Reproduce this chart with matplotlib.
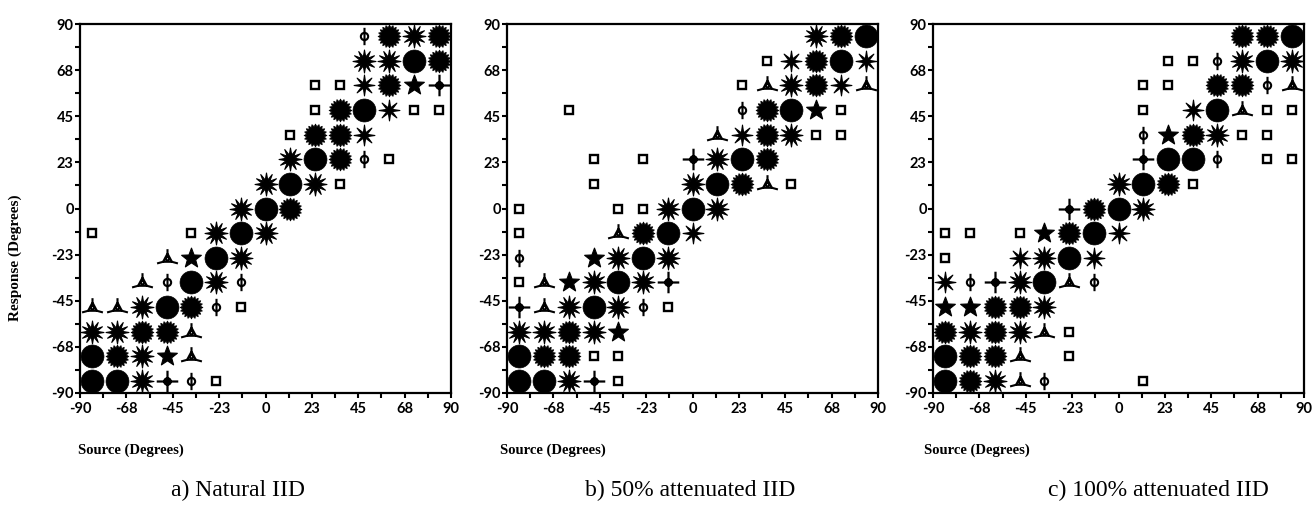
import numpy as np
import matplotlib
matplotlib.use('Agg')
import matplotlib.pyplot as plt
from matplotlib.path import Path

# ---------------- data ----------------
# stimulus / response positions (degrees), columns left->right, rows bottom->top
positions = [-84, -72, -60, -48, -36, -24, -12, 0, 12, 24, 36, 48, 60, 72, 84]
tick_values = [-90, -67.5, -45, -22.5, 0, 22.5, 45, 67.5, 90]
tick_labels = ['-90', '-68', '-45', '-23', '0', '23', '45', '68', '90']
captions = ['a) Natural IID', 'b) 50% attenuated IID', 'c) 100% attenuated IID']

# symbol codes: s=square, p=phi, c=cross, t=tripod, S=star, x=6-arm asterisk,
# a=asterisk, b=burst, D=large dot.  Rows listed from response +84 (top) to -84.
panel_a = [
    "...........pbab",
    "...........aaDb",
    ".........ssxbSc",
    ".........sbDxss",
    "........sbbx...",
    "........aDbps..",
    ".......aDas....",
    "......aDb......",
    "s...saDa.......",
    "...tSDa........",
    "..tpDap........",
    "ttaDbps........",
    "aabbt..........",
    "DbaSt..........",
    "DDacps.........",
]
panel_b = [
    "............abD",
    "..........sxbDx",
    ".........stabxt",
    "..s......pbDSs.",
    "........txbass.",
    "...s.s.caDb....",
    "...s...aDbts...",
    "s...ssaDa......",
    "s...tbDx.......",
    "p..SaDa........",
    "stSaDac........",
    "ctaDaps........",
    "aabaS..........",
    "Dbbss..........",
    "DDacs..........",
]
panel_c = [
    "............bbD",
    ".........sspaDa",
    "........ss.bbpt",
    "........s.xDtss",
    "........pSbass.",
    "........cDDp.ss",
    ".......aDbs....",
    ".....cbDa......",
    "ss.sSbDx.......",
    "s..xaDx........",
    "xpcaDtp........",
    "SSbba..........",
    "babats.........",
    "Dbbt.s.........",
    "Dbatp...s......",
]
panels = [panel_a, panel_b, panel_c]

# ---------------- marker shapes ----------------
def lines_path(segments, circles=()):
    parts = []
    for (x0, y0), (x1, y1) in segments:
        parts.append(Path([(x0, y0), (x1, y1)], [Path.MOVETO, Path.LINETO]))
    for (cx, cy, r) in circles:
        parts.append(Path.circle((cx, cy), r))
    return Path.make_compound_path(*parts)

phi_path = lines_path([((0, -1), (0, 1))], [(0, 0, 0.42)])
cross_path = lines_path([((-1, 0), (1, 0)), ((0, -1), (0, 1))], [(0, 0, 0.3)])
tri_path = lines_path([((0, 0.45), (-0.4, -0.3)), ((-0.4, -0.3), (0.4, -0.3)),
                       ((0.4, -0.3), (0, 0.45)), ((0, 0.45), (0, 0.85)),
                       ((-0.4, -0.3), (-0.95, -0.45)), ((0.4, -0.3), (0.95, -0.45))],
                      [(0, -0.02, 0.15)])
star_path = Path.unit_regular_star(5, 0.42)
ast6_path = Path.unit_regular_star(8, 0.28)
ast_path = Path.unit_regular_star(12, 0.40)
burst_path = Path.unit_regular_star(20, 0.78)

styles = {
    's': dict(marker='s', ms=6.3, mfc='white', mec='black', mew=1.7),
    'p': dict(marker=phi_path, ms=12.5, mfc='none', mec='black', mew=1.5),
    'c': dict(marker=cross_path, ms=15.5, mfc='none', mec='black', mew=1.6),
    't': dict(marker=tri_path, ms=15, mfc='none', mec='black', mew=1.5),
    'S': dict(marker=star_path, ms=15, mfc='black', mec='black', mew=0.8),
    'x': dict(marker=ast6_path, ms=15, mfc='black', mec='black', mew=0.8),
    'a': dict(marker=ast_path, ms=16.5, mfc='black', mec='black', mew=0.8),
    'b': dict(marker=burst_path, ms=16.5, mfc='black', mec='black', mew=0.5),
    'D': dict(marker='o', ms=16.5, mfc='black', mec='black', mew=0.5),
}

# ---------------- figure ----------------
W, H = 1313, 509
fig = plt.figure(figsize=(W / 100, H / 100), dpi=100)
fig.patch.set_facecolor('white')

ax_lefts = [80, 507, 933]
ax_width = 371
ax_top, ax_bottom = 24, 393
caption_centers = [238, 690, 1158]
source_lefts = [78, 500, 924]

tick_font = dict(family='Lato', weight='bold', size=10.5)

for k, (grid, left) in enumerate(zip(panels, ax_lefts)):
    ax = fig.add_axes([left / W, 1 - ax_bottom / H, ax_width / W, (ax_bottom - ax_top) / H])
    ax.set_xlim(-90, 90)
    ax.set_ylim(-90, 90)
    for ri, row in enumerate(grid):
        yv = positions[len(positions) - 1 - ri]
        for ci, code in enumerate(row):
            if code == '.':
                continue
            ax.plot([positions[ci]], [yv], linestyle='none', clip_on=False, **styles[code])
    ax.set_xticks(tick_values)
    ax.set_yticks(tick_values)
    ax.set_xticklabels(tick_labels, fontdict=tick_font)
    ax.set_yticklabels(tick_labels, fontdict=tick_font)
    ax.set_xticks(np.arange(-90, 90.1, 11.25), minor=True)
    ax.set_yticks(np.arange(-90, 90.1, 11.25), minor=True)
    ax.tick_params(which='both', direction='out', length=3.5, width=1.5, color='black')
    ax.tick_params(axis='x', pad=3)
    ax.tick_params(axis='y', pad=1)
    for sp in ax.spines.values():
        sp.set_linewidth(1.6)
    fig.text(source_lefts[k] / W, 1 - 450 / H, 'Source (Degrees)', family='Liberation Serif',
             weight='bold', size=10.5, ha='left', va='center')
    fig.text(caption_centers[k] / W, 1 - 490 / H, captions[k], family='Liberation Serif',
             size=17, ha='center', va='center')

fig.text(15 / W, 1 - 258 / H, 'Response (Degrees)', family='Liberation Serif',
         weight='bold', size=11, rotation=90, ha='center', va='center')

fig.savefig('out.png', dpi=100, facecolor='white')
